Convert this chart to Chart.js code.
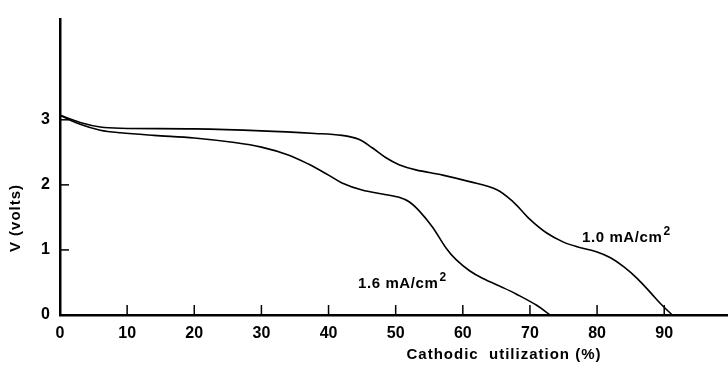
<!DOCTYPE html>
<html>
<head>
<meta charset="utf-8">
<script src="https://cdn.jsdelivr.net/npm/chart.js@4.4.1/dist/chart.umd.min.js"></script>
<style>
  html, body { margin: 0; padding: 0; background: #fff; }
  #wrap { width: 728px; height: 369px; position: relative; }
</style>
</head>
<body>
<div id="wrap"><canvas id="chart"></canvas></div>
<script>
// x = cathodic utilization (%), y = V (volts)
const xTicks = [0, 10, 20, 30, 40, 50, 60, 70, 80, 90];
const yTicks = [0, 1, 2, 3];

const util10 = [0, 3, 6, 9, 20, 30, 38, 42, 44.5, 46.5, 48.5, 50.5, 53, 57, 61, 65, 67.5, 70, 72.5, 75, 77, 80, 82, 84, 86, 88, 89.5, 91.2];
const volts10 = [3.07, 2.96, 2.89, 2.87, 2.86, 2.83, 2.79, 2.76, 2.7, 2.57, 2.42, 2.31, 2.23, 2.15, 2.05, 1.93, 1.74, 1.47, 1.26, 1.12, 1.05, 0.97, 0.88, 0.74, 0.56, 0.34, 0.17, 0];

const util16 = [0, 3, 6, 9, 14, 20, 26, 30, 34, 37, 40, 42, 45, 48, 50.5, 52, 53.5, 55.5, 57.5, 59, 61, 63, 66, 68, 71, 73];
const volts16 = [3.07, 2.93, 2.84, 2.80, 2.76, 2.72, 2.65, 2.58, 2.46, 2.32, 2.15, 2.03, 1.92, 1.86, 1.81, 1.74, 1.6, 1.35, 1.03, 0.85, 0.68, 0.56, 0.42, 0.32, 0.15, 0];

const seriesLabels = ["1.0 mA/cm", "1.6 mA/cm"];

const FONT = "'Liberation Sans', Arial, sans-serif";

function toPoints(xs, ys) {
  return xs.map((x, i) => ({ x: x, y: ys[i] }));
}

const paperPlugin = {
  id: "paper",
  afterDraw(chart) {
    const ctx = chart.ctx;
    const xs = chart.scales.x;
    const ys = chart.scales.y;
    const area = chart.chartArea;
    ctx.save();
    ctx.strokeStyle = "#000";
    ctx.lineWidth = 1.5;
    // inward tick marks
    xTicks.forEach(v => {
      if (v === 0) return;
      const px = xs.getPixelForValue(v);
      ctx.beginPath();
      ctx.moveTo(px, area.bottom);
      ctx.lineTo(px, area.bottom - 10);
      ctx.stroke();
    });
    yTicks.forEach(v => {
      if (v === 0) return;
      const py = ys.getPixelForValue(v);
      ctx.beginPath();
      ctx.moveTo(area.left, py);
      ctx.lineTo(area.left + 9, py);
      ctx.stroke();
    });

    ctx.fillStyle = "#000";
    // axis titles
    ctx.font = "bold 15px " + FONT;
    ctx.letterSpacing = "1px";
    ctx.textAlign = "center";
    ctx.textBaseline = "middle";
    ctx.fillText("Cathodic  utilization (%)", 504, 355);
    ctx.save();
    ctx.translate(16, 218);
    ctx.rotate(-Math.PI / 2);
    ctx.fillText("V (volts)", 0, 0);
    ctx.restore();

    // curve labels with superscript
    function label(text, x, y) {
      ctx.textAlign = "left";
      ctx.textBaseline = "alphabetic";
      ctx.font = "bold 15px " + FONT;
      ctx.letterSpacing = "0.6px";
      ctx.fillText(text, x, y);
      const w = ctx.measureText(text).width;
      ctx.font = "bold 12px " + FONT;
      ctx.fillText("2", x + w + 1, y - 7);
    }
    label(seriesLabels[0], 582, 242);
    label(seriesLabels[1], 358, 288);
    ctx.restore();
  }
};

const ctx = document.getElementById("chart").getContext("2d");
new Chart(ctx, {
  type: "line",
  data: {
    datasets: [
      { label: seriesLabels[0], data: toPoints(util10, volts10) },
      { label: seriesLabels[1], data: toPoints(util16, volts16) }
    ]
  },
  options: {
    responsive: true,
    maintainAspectRatio: false,
    animation: false,
    layout: { padding: { top: 12, right: 0, left: 0, bottom: 0 } },
    elements: {
      point: { radius: 0 },
      line: { borderColor: "#000", borderWidth: 1.6, tension: 0.35, fill: false }
    },
    plugins: { legend: { display: false }, tooltip: { enabled: false } },
    scales: {
      x: {
        type: "linear",
        min: 0,
        max: 99.5,
        grid: { display: false, drawTicks: false },
        border: { display: true, color: "#000", width: 2.5 },
        ticks: {
          stepSize: 10,
          padding: 9,
          color: "#000",
          font: { family: FONT, size: 16, weight: "bold" },
          maxRotation: 0
        },
        afterBuildTicks: s => { s.ticks = xTicks.map(v => ({ value: v })); },
        afterFit: s => { s.height = 54; }
      },
      y: {
        type: "linear",
        min: 0,
        max: 4.54,
        grid: { display: false, drawTicks: false },
        border: { display: true, color: "#000", width: 2.5 },
        ticks: {
          padding: 10,
          color: "#000",
          font: { family: FONT, size: 16, weight: "bold" }
        },
        afterBuildTicks: s => { s.ticks = yTicks.map(v => ({ value: v })); },
        afterFit: s => { s.width = 60; }
      }
    }
  },
  plugins: [paperPlugin]
});
</script>
</body>
</html>
